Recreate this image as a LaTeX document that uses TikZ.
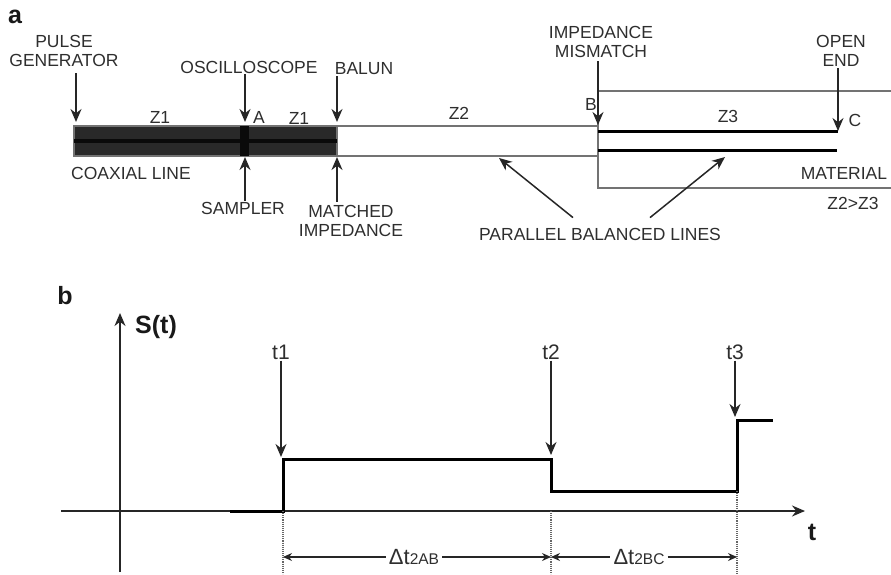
\documentclass[tikz,border=0pt]{standalone}
\usepackage{fontspec}
\setmainfont{Liberation Sans}
\usetikzlibrary{arrows.meta, calc}
\colorlet{ink}{black!82}
\colorlet{wirecol}{black!55}
\colorlet{coax}{black!84}
\colorlet{core}{black!96}
\tikzset{
  lab/.style={ink, inner sep=1pt, align=center, font=\fontsize{17.5}{19.5}\selectfont},
  head/.style={black!90, inner sep=0pt, font=\fontsize{25}{27}\selectfont\bfseries},
  tlab/.style={ink, inner sep=1pt, font=\fontsize{21}{23}\selectfont},
  pointer/.style={black!85, line width=1.5pt, -{Stealth[length=13pt, width=11pt]}},
  dim/.style={black!85, line width=1.2pt},
  wire/.style={wirecol, line width=1.1pt},
  trace/.style={black, line width=3pt, line cap=butt, line join=miter},
  guide/.style={black!60, line width=1.1pt, densely dotted}
}
\newcommand{\dt}[1]{{\fontsize{22}{24}\selectfont Δt}{\fontsize{15.5}{17}\selectfont #1}}

\begin{document}
\begin{tikzpicture}[x=1pt, y=-1pt, >={Stealth[length=9pt, width=8pt]}]
  \useasboundingbox (0,0) rectangle (891,575);

  % --- part a: the line ------------------------------------------------------
  \node[head] (parta) at (15,17) {a};

  \fill[coax] (74,126) rectangle (337,156);
  \draw[wire] (74,126) rectangle (337,156);
  \draw[core, line width=3pt] (74,141) -- (337,141);
  \fill[core] (240,126) rectangle (249,156);

  \draw[wire] (337,126) -- (598,126);
  \draw[wire] (337,156) -- (598,156);
  \draw[wire] (891,91) -- (598,91) -- (598,188) -- (891,188);
  \draw[black, line width=3pt] (598,132) -- (838,132);
  \draw[black, line width=3pt] (598,150) -- (837,150);

  % --- labels of part a ------------------------------------------------------
  \node[lab] (pulse) at (64,51) {PULSE\\GENERATOR};
  \node[lab] (scope) at (249,67) {OSCILLOSCOPE};
  \node[lab] (balun) at (364,69) {BALUN};
  \node[lab] (mismatch) at (601,42) {IMPEDANCE\\MISMATCH};
  \node[lab] (open) at (841,51) {OPEN\\END};
  \node[lab] (coaxial) at (131,173) {COAXIAL LINE};
  \node[lab] (sampler) at (243,208) {SAMPLER};
  \node[lab] (matched) at (351,221) {MATCHED\\IMPEDANCE};
  \node[lab] (material) at (844,173) {MATERIAL};
  \node[lab] (zcompare) at (853,203) {Z2>Z3};
  \node[lab] (parallel) at (600,234) {PARALLEL BALANCED LINES};

  \node[lab] (zonea) at (160,117) {Z1};
  \node[lab] (zoneb) at (299,118) {Z1};
  \node[lab] (ztwo) at (459,113) {Z2};
  \node[lab] (zthree) at (728,116) {Z3};
  \node[lab] (pointa) at (259,117) {A};
  \node[lab] (pointb) at (591,104) {B};
  \node[lab] (pointc) at (855,120) {C};

  % --- arrows of part a ------------------------------------------------------
  \coordinate (pulsetip) at (76,122);
  \coordinate (scopetip) at (245,122);
  \coordinate (baluntip) at (337,122);
  \coordinate (mismatchtip) at (598,125);
  \coordinate (opentip) at (838,131);
  \coordinate (samplertip) at (245,157);
  \coordinate (matchedtip) at (337,157);
  \coordinate (lefttip) at (499,158);
  \coordinate (righttip) at (725,157);

  \draw[pointer] ([yshift=-5pt]pulse.south -| pulsetip) -- (pulsetip);
  \draw[pointer] (scope.south -| scopetip) -- (scopetip);
  \draw[pointer] (balun.south -| baluntip) -- (baluntip);
  \draw[pointer] ([yshift=-2pt]mismatch.south -| mismatchtip) -- (mismatchtip);
  \draw[pointer] (open.south -| opentip) -- (opentip);
  \draw[pointer] (sampler.north -| samplertip) -- (samplertip);
  \draw[pointer] ([yshift=2pt]matched.north -| matchedtip) -- (matchedtip);
  \draw[pointer] ([xshift=-27pt,yshift=9pt]parallel.north) -- (lefttip);
  \draw[pointer] ([xshift=50pt,yshift=9pt]parallel.north) -- (righttip);

  % --- part b: the signal ----------------------------------------------------
  \node[head] (partb) at (65,296) {b};
  \node[head] (sig) at (156,327) {S(t)};
  \node[head] (time) at (812,532) {t};

  \coordinate (yfoot) at (120,572);
  \coordinate (ytop) at (120,313);
  \coordinate (xfoot) at (61,511);
  \coordinate (xtop) at (805,511);
  \draw[pointer] (yfoot) -- (ytop);
  \draw[pointer] (xfoot) -- (xtop);

  \draw[trace] (230,511) -- (283,511) -- (283,459) -- (551,459) -- (551,491)
    -- (737,491) -- (737,420) -- (773,420);

  \node[tlab] (tone) at (281,352) {t1};
  \node[tlab] (ttwo) at (551,352) {t2};
  \node[tlab] (tthree) at (735,352) {t3};
  \coordinate (tonetip) at (281,457);
  \coordinate (ttwotip) at (551,455);
  \coordinate (tthreetip) at (735,417);
  \draw[pointer] (tone.south) -- (tonetip);
  \draw[pointer] (ttwo.south) -- (ttwotip);
  \draw[pointer] (tthree.south) -- (tthreetip);

  \coordinate (markone) at (283,574);
  \coordinate (marktwo) at (551,574);
  \coordinate (markthree) at (737,574);
  \draw[guide] (283,511) -- (markone);
  \draw[guide] (551,511) -- (marktwo);
  \draw[guide] (737,491) -- (markthree);

  \node[ink, inner sep=3pt] (gapab) at (414,557) {\dt{2AB}};
  \node[ink, inner sep=3pt] (gapbc) at (639,557) {\dt{2BC}};
  \coordinate (gapa) at (283,557);
  \coordinate (gapb) at (551,557);
  \coordinate (gapc) at (737,557);
  \draw[dim, <-] (gapa) -- (gapab);
  \draw[dim, ->] (gapab) -- (gapb);
  \draw[dim, <-] (gapb) -- (gapbc);
  \draw[dim, ->] (gapbc) -- (gapc);

\end{tikzpicture}
\end{document}
